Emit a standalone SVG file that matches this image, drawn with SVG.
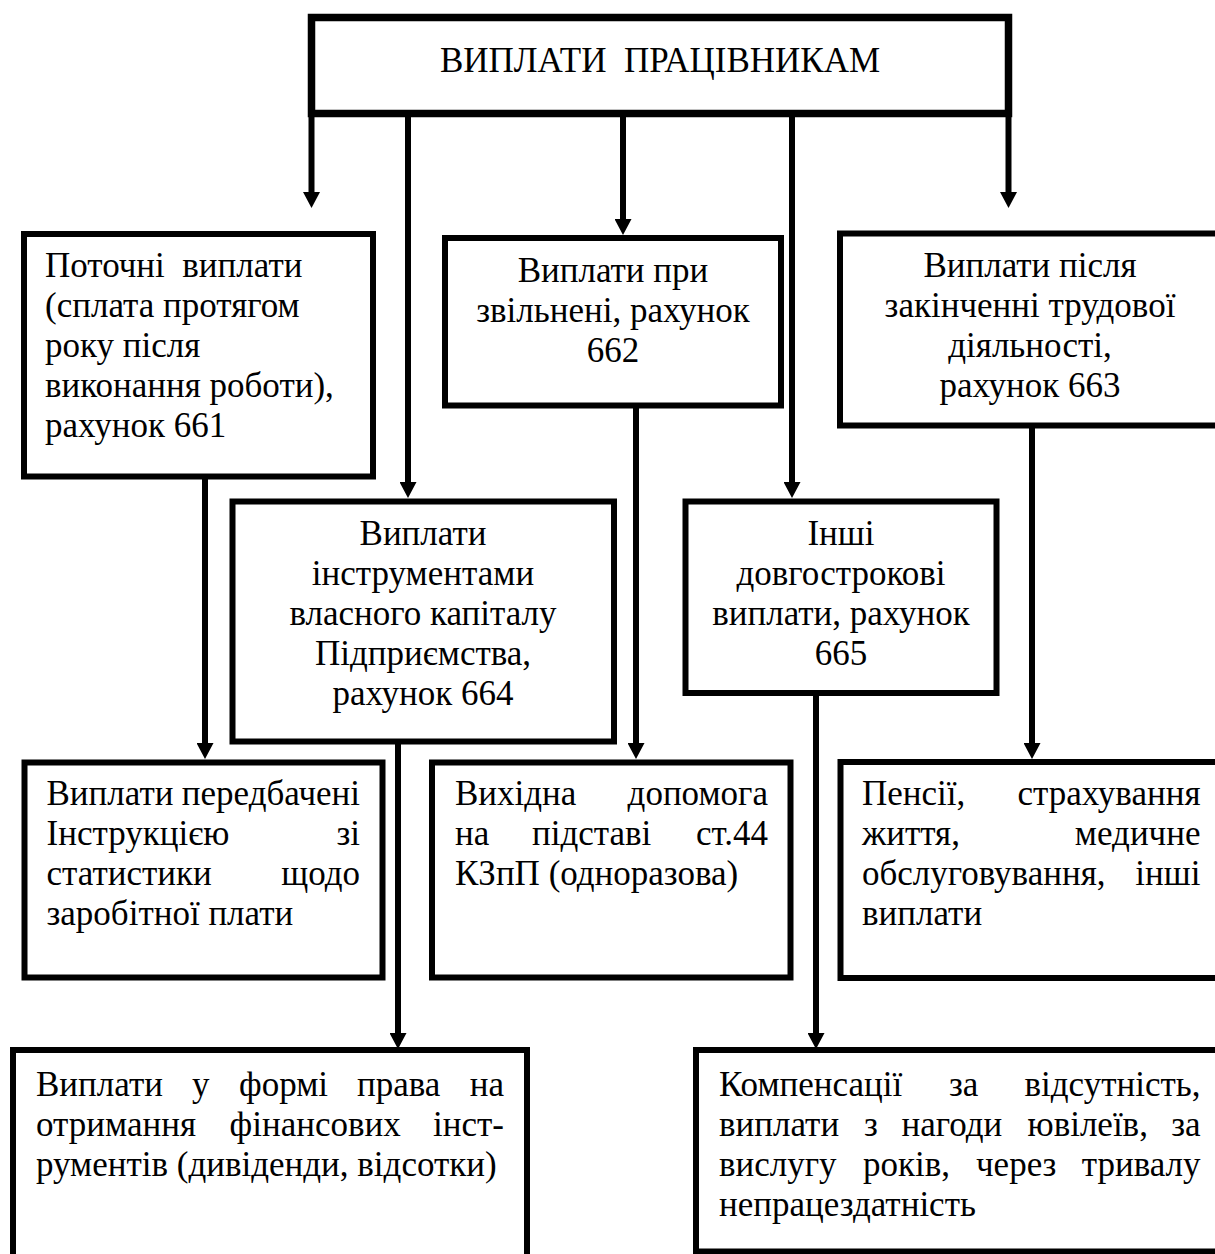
<svg xmlns="http://www.w3.org/2000/svg" width="1215" height="1254" viewBox="0 0 1215 1254">
<style>
.box{fill:#fff;stroke:#000;stroke-width:6}
.top{stroke-width:7.5}
.t{font-family:"Liberation Serif","Times New Roman",serif;font-size:35px;fill:#000}
.c{text-anchor:middle}
.e{text-anchor:end}
.ln{stroke:#000;stroke-width:6;fill:none}
</style>
<defs>
<marker id="ah" viewBox="0 0 16 17" refX="0" refY="8.5" markerWidth="16" markerHeight="17" markerUnits="userSpaceOnUse" orient="auto">
<path d="M0,0 L16,8.5 L0,17 Z" fill="#000"/>
</marker>
</defs>
<rect width="1215" height="1254" fill="#fff"/>

<g id="connectors">
<line class="ln" x1="311.5" y1="113" x2="311.5" y2="192" marker-end="url(#ah)"/>
<line class="ln" x1="408" y1="113" x2="408" y2="482" marker-end="url(#ah)"/>
<line class="ln" x1="623" y1="113" x2="623" y2="219" marker-end="url(#ah)"/>
<line class="ln" x1="792" y1="113" x2="792" y2="482" marker-end="url(#ah)"/>
<line class="ln" x1="1008.5" y1="113" x2="1008.5" y2="192" marker-end="url(#ah)"/>
<line class="ln" x1="205" y1="476" x2="205" y2="743" marker-end="url(#ah)"/>
<line class="ln" x1="636" y1="405" x2="636" y2="743" marker-end="url(#ah)"/>
<line class="ln" x1="1032" y1="425" x2="1032" y2="743" marker-end="url(#ah)"/>
<line class="ln" x1="398" y1="741" x2="398" y2="1033" marker-end="url(#ah)"/>
<line class="ln" x1="816" y1="693" x2="816" y2="1033" marker-end="url(#ah)"/>
</g>

<g id="n-main">
<rect class="box top" x="311.5" y="17.5" width="697" height="96"/>
<text class="t c" x="660" y="72" xml:space="preserve">ВИПЛАТИ  ПРАЦІВНИКАМ</text>
</g>

<g id="n-661">
<rect class="box" x="24" y="234" width="349" height="242.5"/>
<text class="t" x="45" y="277" xml:space="preserve">Поточні  виплати</text>
<text class="t" x="45" y="317">(сплата протягом</text>
<text class="t" x="45" y="357">року після</text>
<text class="t" x="45" y="397">виконання роботи),</text>
<text class="t" x="45" y="437">рахунок 661</text>
</g>

<g id="n-662">
<rect class="box" x="445" y="238" width="336" height="167.5"/>
<text class="t c" x="613" y="282">Виплати при</text>
<text class="t c" x="613" y="322">звільнені, рахунок</text>
<text class="t c" x="613" y="362">662</text>
</g>

<g id="n-663">
<rect class="box" x="840" y="233.5" width="385" height="192"/>
<text class="t c" x="1030" y="277">Виплати після</text>
<text class="t c" x="1030" y="317">закінченні трудової</text>
<text class="t c" x="1030" y="357">діяльності,</text>
<text class="t c" x="1030" y="397">рахунок 663</text>
</g>

<g id="n-664">
<rect class="box" x="232.5" y="501.5" width="381.5" height="240"/>
<text class="t c" x="423" y="545">Виплати</text>
<text class="t c" x="423" y="585">інструментами</text>
<text class="t c" x="423" y="625">власного капіталу</text>
<text class="t c" x="423" y="665">Підприємства,</text>
<text class="t c" x="423" y="705">рахунок 664</text>
</g>

<g id="n-665">
<rect class="box" x="685.5" y="501.5" width="311" height="191.5"/>
<text class="t c" x="841" y="545">Інші</text>
<text class="t c" x="841" y="585">довгострокові</text>
<text class="t c" x="841" y="625">виплати, рахунок</text>
<text class="t c" x="841" y="665">665</text>
</g>

<g id="n-stat">
<rect class="box" x="24.5" y="762.5" width="358" height="215"/>
<text class="t" x="46.5" y="805">Виплати</text><text class="t e" x="360" y="805">передбачені</text>
<text class="t" x="46.5" y="845">Інструкцією</text><text class="t e" x="360" y="845">зі</text>
<text class="t" x="46.5" y="885">статистики</text><text class="t e" x="360" y="885">щодо</text>
<text class="t" x="46.5" y="925">заробітної плати</text>
</g>

<g id="n-vyhidna">
<rect class="box" x="432" y="762.5" width="358.5" height="215"/>
<text class="t" x="455" y="805">Вихідна</text><text class="t e" x="768" y="805">допомога</text>
<text class="t" x="455" y="845">на</text><text class="t" x="532" y="845">підставі</text><text class="t e" x="768" y="845">ст.44</text>
<text class="t" x="455" y="885">КЗпП (одноразова)</text>
</g>

<g id="n-pensii">
<rect class="box" x="840.5" y="762" width="385" height="216"/>
<text class="t" x="862" y="805">Пенсії,</text><text class="t e" x="1200.5" y="805">страхування</text>
<text class="t" x="862" y="845">життя,</text><text class="t e" x="1200.5" y="845">медичне</text>
<text class="t" x="862" y="885">обслуговування,</text><text class="t e" x="1200.5" y="885">інші</text>
<text class="t" x="862" y="925">виплати</text>
</g>

<g id="n-fin">
<rect class="box" x="13" y="1050" width="514" height="215"/>
<text class="t" x="36" y="1096">Виплати</text><text class="t" x="192" y="1096">у</text><text class="t" x="239" y="1096">формі</text><text class="t" x="357" y="1096">права</text><text class="t e" x="504" y="1096">на</text>
<text class="t" x="36" y="1136">отримання</text><text class="t" x="229.5" y="1136">фінансових</text><text class="t e" x="504" y="1136">інст-</text>
<text class="t" x="36" y="1176">рументів (дивіденди, відсотки)</text>
</g>

<g id="n-komp">
<rect class="box" x="696" y="1050" width="529" height="201.5"/>
<text class="t" x="719" y="1096">Компенсації</text><text class="t" x="949" y="1096">за</text><text class="t e" x="1200.5" y="1096">відсутність,</text>
<text class="t" x="719" y="1136">виплати</text><text class="t" x="864" y="1136">з</text><text class="t" x="901.5" y="1136">нагоди</text><text class="t" x="1027.5" y="1136">ювілеїв,</text><text class="t e" x="1200.5" y="1136">за</text>
<text class="t" x="719" y="1176">вислугу</text><text class="t" x="863" y="1176">років,</text><text class="t" x="976" y="1176">через</text><text class="t e" x="1200.5" y="1176">тривалу</text>
<text class="t" x="719" y="1216">непрацездатність</text>
</g>
</svg>
